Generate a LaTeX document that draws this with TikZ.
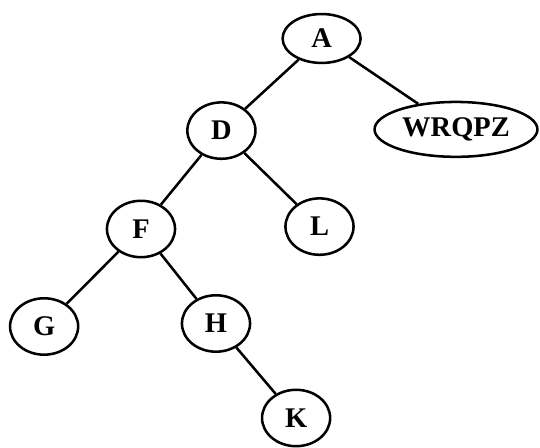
\documentclass[tikz,border=0pt]{standalone}
\usepackage{fontspec}
\setmainfont{Liberation Serif}
\usepackage{tikz}
\usetikzlibrary{shapes.geometric}

\begin{document}
\begin{tikzpicture}[line width=2.4pt, main/.style = {draw, ellipse, inner sep=0pt, minimum width=2.27cm, minimum height=1.88cm, font=\fontsize{27}{32}\selectfont\bfseries}]
    \useasboundingbox (0,0) rectangle (18,14.933);
    % Nodes

    \node[main, minimum width=2.6cm, minimum height=1.63cm] (11) at (10.72, 13.65) {A};
    \node[main] (21) at (7.38, 10.58) {D};
    \node[main, minimum width=5.43cm, minimum height=1.83cm] (22) at (15.2, 10.62) {WRQPZ};

    \node[main] (31) at (4.7, 7.3) {F};
    \node[main] (32) at (10.65, 7.38) {L};

    \node[main] (41) at (1.47, 4.05) {G};
    \node[main] (42) at (7.2, 4.15) {H};

    \node[main] (51) at (9.87, 1.0) {K};

    % Edges
    \draw (11) to (21);
    \draw (11) to (22);
    \draw (21) to (31);
    \draw (21) to (32);
    \draw (31) to (41);
    \draw (31) to (42);
    \draw (42) to (51);

\end{tikzpicture}
\end{document}
